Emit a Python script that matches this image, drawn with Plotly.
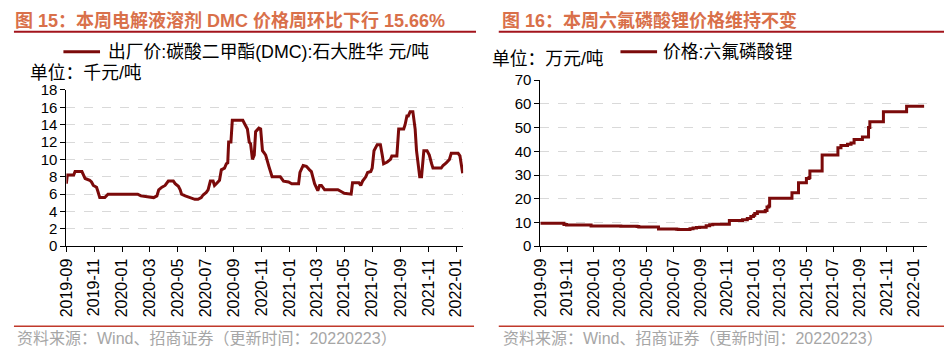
import plotly.graph_objects as go

# ---- Data: DMC price (千元/吨) ----
dmc_dates = [
    "2019-09-01", "2019-09-03", "2019-09-17", "2019-09-20", "2019-10-05", "2019-10-08",
    "2019-10-12", "2019-10-22", "2019-10-26", "2019-10-30", "2019-11-06", "2019-11-09",
    "2019-11-13", "2019-11-24", "2019-12-01", "2020-02-04", "2020-02-11", "2020-02-25",
    "2020-03-10", "2020-03-17", "2020-03-21", "2020-03-28", "2020-04-04", "2020-04-11",
    "2020-04-22", "2020-04-26", "2020-05-03", "2020-05-07", "2020-05-10", "2020-05-18",
    "2020-05-29", "2020-06-08", "2020-06-15", "2020-06-22", "2020-06-26", "2020-07-03",
    "2020-07-07", "2020-07-12", "2020-07-18", "2020-07-21", "2020-07-25", "2020-08-01",
    "2020-08-05", "2020-08-12", "2020-08-16", "2020-08-19", "2020-08-21", "2020-08-26",
    "2020-08-29", "2020-09-21", "2020-09-24", "2020-09-28", "2020-10-01", "2020-10-05",
    "2020-10-08", "2020-10-12", "2020-10-16", "2020-10-19", "2020-10-26", "2020-10-30",
    "2020-11-03", "2020-11-06", "2020-11-10", "2020-11-17", "2020-11-21", "2020-11-24",
    "2020-12-12", "2020-12-16", "2020-12-19", "2020-12-30", "2021-01-06", "2021-01-21",
    "2021-01-24", "2021-01-31", "2021-02-07", "2021-02-14", "2021-02-18", "2021-02-25",
    "2021-02-28", "2021-03-04", "2021-03-08", "2021-03-12", "2021-03-19", "2021-04-17",
    "2021-04-24", "2021-05-01", "2021-05-16", "2021-05-19", "2021-06-02", "2021-06-06",
    "2021-06-10", "2021-06-17", "2021-06-21", "2021-06-28", "2021-07-01", "2021-07-05",
    "2021-07-12", "2021-07-19", "2021-07-23", "2021-07-26", "2021-08-03", "2021-08-10",
    "2021-08-13", "2021-08-24", "2021-08-28", "2021-09-08", "2021-09-11", "2021-09-15",
    "2021-09-18", "2021-09-22", "2021-09-28", "2021-10-03", "2021-10-06", "2021-10-10",
    "2021-10-13", "2021-10-17", "2021-10-22", "2021-10-29", "2021-11-03", "2021-11-08",
    "2021-11-11", "2021-11-29", "2021-12-03", "2021-12-10", "2021-12-17", "2021-12-21",
    "2022-01-05", "2022-01-09", "2022-01-15",
]
dmc_values = [
    7.2, 8.2, 8.2, 8.6, 8.6, 8.2,
    7.8, 7.6, 7.4, 7.0, 6.8, 6.3,
    5.6, 5.6, 6.0, 6.0, 5.8, 5.7,
    5.6, 5.8, 6.5, 6.8, 7.0, 7.5,
    7.5, 7.2, 6.9, 6.5, 6.0, 5.8,
    5.6, 5.4, 5.4, 5.6, 5.9, 6.2,
    6.5, 7.5, 7.5, 7.0, 7.2, 7.6,
    8.8, 9.0, 9.5, 9.6, 12.0, 12.0,
    14.5, 14.5, 14.2, 13.8, 13.5, 12.0,
    11.8, 10.0, 10.5, 13.2, 13.6, 13.5,
    11.0, 10.8, 10.5, 9.2, 8.3, 8.0,
    8.0, 7.7, 7.5, 7.4, 7.2, 7.2,
    8.5, 9.3, 9.2, 8.8, 8.6, 7.2,
    6.8, 6.4, 7.0, 7.0, 6.5, 6.5,
    6.3, 6.1, 6.0, 7.3, 7.3, 7.0,
    7.5, 8.0, 8.5, 8.6, 9.0, 11.0,
    11.7, 11.7, 10.5, 9.5, 9.7, 10.0,
    10.4, 10.4, 13.5, 13.5, 14.0, 15.0,
    15.0, 15.5, 15.5, 13.5, 11.0, 9.0,
    8.0, 8.0, 11.0, 11.0, 10.5, 9.5,
    9.0, 9.0, 9.3, 9.6, 10.0, 10.7,
    10.7, 10.4, 8.4,
]

# ---- Data: LiPF6 price (万元/吨) ----
lipf6_dates = [
    "2019-09-01", "2019-10-23", "2019-10-25", "2019-10-31", "2019-12-22", "2019-12-26",
    "2020-03-03", "2020-04-09", "2020-04-13", "2020-05-24", "2020-05-28", "2020-07-08",
    "2020-07-12", "2020-08-04", "2020-08-08", "2020-08-15", "2020-08-23", "2020-08-30",
    "2020-09-14", "2020-09-22", "2020-09-29", "2020-11-02", "2020-11-06", "2020-11-28",
    "2020-12-06", "2020-12-17", "2020-12-25", "2020-12-31", "2021-01-03", "2021-01-09",
    "2021-01-24", "2021-01-27", "2021-01-31", "2021-02-04", "2021-02-06", "2021-03-27",
    "2021-03-29", "2021-04-11", "2021-04-13", "2021-04-28", "2021-05-01", "2021-05-07",
    "2021-05-09", "2021-06-04", "2021-06-06", "2021-07-08", "2021-07-12", "2021-07-19",
    "2021-07-30", "2021-08-03", "2021-08-11", "2021-08-18", "2021-09-02", "2021-09-06",
    "2021-09-17", "2021-09-20", "2021-09-23", "2021-10-21", "2021-10-24", "2021-12-13",
    "2021-12-16", "2022-01-25",
]
lipf6_values = [
    9.7, 9.7, 9.2, 8.9, 8.9, 8.5,
    8.4, 8.3, 8.1, 8.1, 7.3, 7.2,
    7.0, 7.0, 7.4, 7.7, 7.9, 8.0,
    8.6, 9.0, 9.3, 9.3, 10.8, 10.8,
    11.2, 11.7, 12.5, 13.0, 13.8, 14.5,
    14.5, 15.0, 16.5, 17.0, 20.2, 20.2,
    22.5, 22.5, 26.7, 26.7, 28.5, 29.0,
    31.7, 31.7, 38.5, 38.5, 41.5, 42.5,
    42.5, 43.0, 43.5, 45.0, 45.0, 46.0,
    46.0, 50.0, 52.5, 52.5, 56.7, 56.7,
    59.0, 59.0,
]

title_left = "图 15：本周电解液溶剂 DMC 价格周环比下行 15.66%"
title_right = "图 16：本周六氟磷酸锂价格维持不变"
legend_left = "出厂价:碳酸二甲酯(DMC):石大胜华 元/吨"
legend_right = "价格:六氟磷酸锂"
unit_left = "单位：千元/吨"
unit_right = "单位：万元/吨"
source_text = "资料来源：Wind、招商证券（更新时间：20220223）"

FONT = "Liberation Sans, Arial, Noto Sans CJK SC, sans-serif"
LINE_COLOR = "#7B0A0A"
TITLE_COLOR = "#D9704A"
RULE_COLOR = "#A3141C"
W, H = 945, 359

fig = go.Figure()
fig.add_trace(go.Scatter(x=dmc_dates, y=dmc_values, mode="lines",
                         line=dict(color=LINE_COLOR, width=3),
                         xaxis="x", yaxis="y", showlegend=False,
                         name=legend_left))
fig.add_trace(go.Scatter(x=lipf6_dates, y=lipf6_values, mode="lines",
                         line=dict(color=LINE_COLOR, width=3, shape="hv"),
                         xaxis="x2", yaxis="y2", showlegend=False,
                         name=legend_right))

def px_x(p):
    return p / W

def px_y(p):
    return 1 - p / H

xcommon = dict(type="date", tickformat="%Y-%m", dtick="M2", tick0="2019-09-01",
               tickangle=-90, showline=True, linecolor="black", linewidth=1,
               ticks="outside", ticklen=5, tickcolor="black", showgrid=False,
               tickfont=dict(family=FONT, size=16, color="black"), zeroline=False)
ycommon = dict(showline=True, linecolor="black", linewidth=1, ticks="outside",
               ticklen=5, tickcolor="black", showgrid=True, gridcolor="#D9D9D9",
               griddash="dash", gridwidth=1, zeroline=False,
               tickfont=dict(family=FONT, size=15, color="black"))

fig.update_layout(
    width=W, height=H,
    margin=dict(l=0, r=0, t=0, b=0),
    paper_bgcolor="white", plot_bgcolor="white",
    xaxis=dict(xcommon, domain=[px_x(58), px_x(459)], anchor="y",
               range=["2019-09-01", "2022-01-16"]),
    yaxis=dict(ycommon, domain=[px_y(249), px_y(85)], anchor="x",
               range=[0, 18], dtick=2),
    xaxis2=dict(xcommon, domain=[px_x(537), px_x(928)], anchor="y2",
                range=["2019-09-01", "2022-02-01"]),
    yaxis2=dict(ycommon, domain=[px_y(249), px_y(74.7)], anchor="x2",
                range=[0, 70], dtick=10),
)

shapes = [
    # title underlines
    dict(type="line", xref="paper", yref="paper", x0=px_x(5), x1=px_x(472),
         y0=px_y(24), y1=px_y(24), line=dict(color=RULE_COLOR, width=2)),
    dict(type="line", xref="paper", yref="paper", x0=px_x(495), x1=px_x(945),
         y0=px_y(24), y1=px_y(24), line=dict(color=RULE_COLOR, width=2)),
    # footer rules
    dict(type="line", xref="paper", yref="paper", x0=px_x(5), x1=px_x(470),
         y0=px_y(333), y1=px_y(333), line=dict(color="#C0392B", width=1.5)),
    dict(type="line", xref="paper", yref="paper", x0=px_x(495), x1=px_x(945),
         y0=px_y(333), y1=px_y(333), line=dict(color="#C0392B", width=1.5)),
    # legend symbols
    dict(type="line", xref="paper", yref="paper", x0=px_x(55), x1=px_x(92),
         y0=px_y(45), y1=px_y(45), line=dict(color=LINE_COLOR, width=3)),
    dict(type="line", xref="paper", yref="paper", x0=px_x(618), x1=px_x(655),
         y0=px_y(45), y1=px_y(45), line=dict(color=LINE_COLOR, width=3)),
]
fig.update_layout(shapes=shapes)

def ann(text, x, y, size, color="black", bold=False):
    t = f"<b>{text}</b>" if bold else text
    return dict(text=t, xref="paper", yref="paper", x=px_x(x), y=px_y(y),
                xanchor="left", yanchor="middle", showarrow=False,
                font=dict(family=FONT, size=size, color=color))

fig.update_layout(annotations=[
    ann(title_left, 4, 12, 18, TITLE_COLOR, bold=True),
    ann(title_right, 496, 12, 18, TITLE_COLOR, bold=True),
    ann(legend_left, 98, 45, 17.8),
    ann(legend_right, 659, 45, 17.8),
    ann(unit_left, 19, 67, 17.8),
    ann(unit_right, 486, 53, 17.8),
    ann(source_text, 6, 346, 16, "#A6A6A6"),
    ann(source_text, 497, 346, 16, "#A6A6A6"),
])

fig.write_html(
    "out.html",
    config={"displayModeBar": False},
    post_script="document.body.style.margin='0';document.body.style.overflow='hidden';",
)
